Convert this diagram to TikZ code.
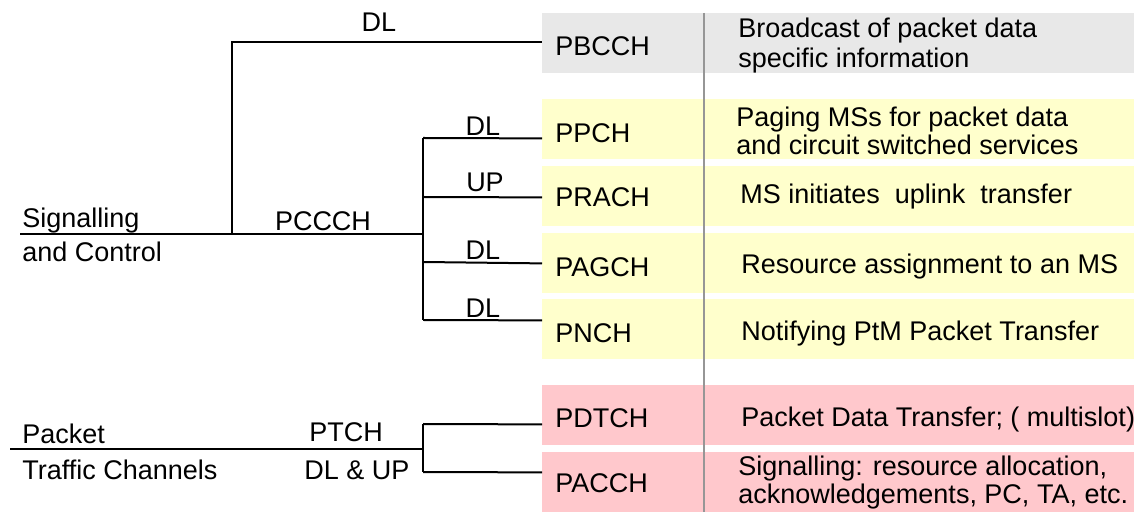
\documentclass[tikz,border=0pt]{standalone}
\usepackage{fontspec}
\setmainfont{Liberation Sans}
\usetikzlibrary{positioning}

\definecolor{greyband}{RGB}{232,232,232}
\definecolor{yellowband}{RGB}{255,255,204}
\definecolor{pinkband}{RGB}{255,200,204}
\definecolor{divgrey}{RGB}{150,150,150}

\begin{document}
\begin{tikzpicture}[x=0.5pt,y=-0.5pt,
    font=\fontsize{13.5}{14}\selectfont,
    band/.style={anchor=north west,inner sep=0pt,minimum width=296pt,minimum height=30pt},
    chname/.style={anchor=west,inner sep=0pt},
    chdesc/.style={anchor=west,inner sep=0pt,align=left},
    lbl/.style={anchor=base,inner sep=0pt},
    link/.style={line width=1pt}]
            \useasboundingbox (0,0) rectangle (1134,512);
            %% coloured rows
            \foreach \n/\t/\c in {PBCCH/13/greyband,PPCH/99/yellowband,PRACH/166/yellowband,
                PAGCH/233/yellowband,PNCH/299/yellowband,PDTCH/385/pinkband,PACCH/452/pinkband}{
            \node[band,fill=\c] (b\n) at (542,\t) {};
            }
            \draw[divgrey,line width=1pt] (704,13) -- (704,512);
            %% channel names
            \foreach \n/\y in {PBCCH/46,PPCH/133,PRACH/197,PAGCH/267,PNCH/333,PDTCH/418,PACCH/483}{
            \node[chname] (n\n) at (555,\y) {\n};
            }
            %% descriptions
            \node[chdesc,align=left] (dPBCCH) at (738,46) {Broadcast of packet data\\[1pt]specific information};
            \node[chdesc] (dPPCH) at (736,131) {Paging MSs for packet data\\and circuit switched services};
            \node[chdesc] (dPRACH) at (740,197) {MS initiates~~uplink~~transfer};
            \node[chdesc] (dPAGCH) at (741,267) {Resource assignment to an MS};
            \node[chdesc] (dPNCH) at (741,334) {Notifying PtM Packet Transfer};
            \node[chdesc] (dPDTCH) at (741,420) {Packet Data Transfer; ( multislot)};
            \node[chdesc] (dPACCH) at (738,483) {Signalling: resource allocation,\\acknowledgements, PC, TA, etc.};
            %% left side labels
            \node[lbl,anchor=base west] (sig) at (22,228) {Signalling};
            \node[lbl,anchor=base west] (ctrl) at (22,262) {and Control};
            \node[lbl,anchor=base west] (pkt) at (22,444) {Packet};
            \node[lbl,anchor=base west] (tch) at (22,480) {Traffic Channels};
            \node[lbl] (pccch) at (323,231) {PCCCH};
            \node[lbl] (ptch) at (346,442) {PTCH};
            \node[lbl] (dlup) at (357,480) {DL \& UP};
            \node[lbl] (dl1) at (379,32) {DL};
            \node[lbl] (dl2) at (483,136) {DL};
            \node[lbl] (up1) at (485,192) {UP};
            \node[lbl] (dl3) at (483,260) {DL};
            \node[lbl] (dl4) at (483,318) {DL};
            %% junctions
            \coordinate (sigstart) at (20,234);
            \coordinate (jbc) at (232,234);
            \coordinate (jpc) at (423,234);
            \coordinate (pktstart) at (10,449);
            \coordinate (jpt) at (423,449);
            %% signalling and control tree
            \draw[link] (sigstart) -- (jpc);
            \draw[link] (jbc) |- ([yshift=0.5pt]bPBCCH.west);
            \draw[link] (jpc |- 0,138) -- (jpc |- 0,320);
            \draw[link] (jpc |- 0,138) -- ([yshift=-4.5pt]bPPCH.west);
            \draw[link] (jpc |- 0,197) -- ([yshift=-0.5pt]bPRACH.west);
            \draw[link] (jpc |- 0,262) -- (bPAGCH.west);
            \draw[link] (jpc |- 0,320) -- ([yshift=4.5pt]bPNCH.west);
            %% traffic channels
            \draw[link] (pktstart) -- (jpt);
            \draw[link] (jpt |- 0,424) -- (jpt |- 0,472);
            \draw[link] (jpt |- 0,424) -- ([yshift=-4.5pt]bPDTCH.west);
            \draw[link] (jpt |- 0,472) -- ([yshift=5pt]bPACCH.west);
        \end{tikzpicture}
\end{document}
